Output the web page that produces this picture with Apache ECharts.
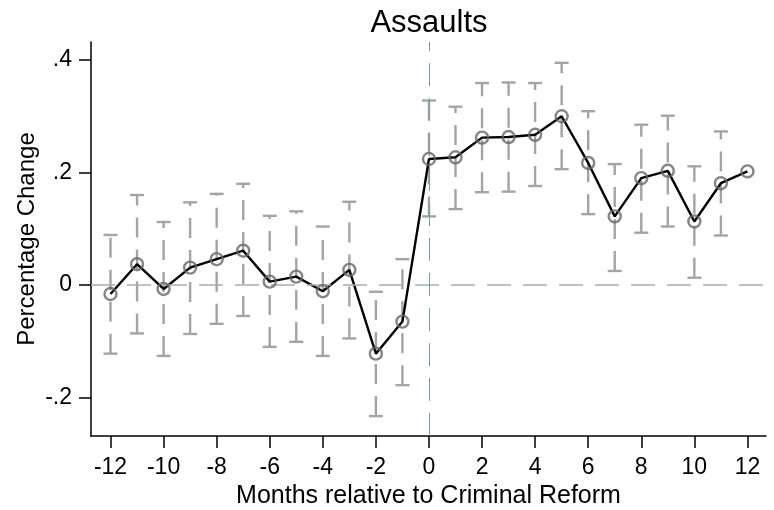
<!DOCTYPE html>
<html>
<head>
<meta charset="utf-8">
<title>Assaults</title>
<script src="https://cdn.jsdelivr.net/npm/echarts@6/dist/echarts.min.js"></script>
<style>
  html, body { margin: 0; padding: 0; background: #fff; }
  #chart { width: 774px; height: 510px; }
</style>
</head>
<body>
<div id="chart"></div>
<script>
// Event-study estimates: months relative to the reform
const months = [-12, -11, -10, -9, -8, -7, -6, -5, -4, -3, -2, -1, 0, 1, 2, 3, 4, 5, 6, 7, 8, 9, 10, 11, 12];
const estimates = [-0.016, 0.037, -0.007, 0.031, 0.046, 0.061, 0.006, 0.015, -0.011, 0.027, -0.122, -0.065,
                   0.224, 0.227, 0.262, 0.263, 0.267, 0.300, 0.217, 0.122, 0.190, 0.203, 0.113, 0.181, 0.202];
const ciLower = [-0.122, -0.086, -0.126, -0.087, -0.069, -0.055, -0.110, -0.101, -0.126, -0.095, -0.233, -0.178,
                 0.122, 0.135, 0.165, 0.166, 0.176, 0.206, 0.126, 0.025, 0.093, 0.104, 0.013, 0.088, null];
const ciUpper = [0.089, 0.160, 0.112, 0.147, 0.162, 0.180, 0.123, 0.131, 0.104, 0.148, -0.012, 0.046,
                 0.328, 0.317, 0.359, 0.360, 0.359, 0.395, 0.309, 0.215, 0.285, 0.301, 0.211, 0.273, null];

// Axis ticks and labels
const xTicks = [-12, -10, -8, -6, -4, -2, 0, 2, 4, 6, 8, 10, 12];
const yTicks = [-0.2, 0, 0.2, 0.4];
const yTickLabels = ['-.2', '0', '.2', '.4'];

const FONT = '"Liberation Sans", Arial, Helvetica, sans-serif';

const pointData = months.map((m, i) => [m, estimates[i]]);
const ciData = [];
months.forEach((m, i) => {
  if (ciLower[i] != null && ciUpper[i] != null) ciData.push([m, ciLower[i], ciUpper[i]]);
});

const CI_COLOR = '#a4a4a4';

function renderCI(params, api) {
  const x = api.value(0);
  const lo = api.coord([x, api.value(1)]);
  const hi = api.coord([x, api.value(2)]);
  const half = 7;
  const solid = { stroke: CI_COLOR, lineWidth: 2.4, fill: null };
  return {
    type: 'group',
    children: [
      { type: 'line', shape: { x1: lo[0], y1: lo[1], x2: hi[0], y2: hi[1] },
        style: { stroke: CI_COLOR, lineWidth: 2.4, lineDash: [20, 12], fill: null } },
      { type: 'line', shape: { x1: lo[0] - half, y1: lo[1], x2: lo[0] + half, y2: lo[1] }, style: solid },
      { type: 'line', shape: { x1: hi[0] - half, y1: hi[1], x2: hi[0] + half, y2: hi[1] }, style: solid }
    ]
  };
}

const chart = echarts.init(document.getElementById('chart'), null, { renderer: 'canvas' });

chart.setOption({
  animation: false,
  backgroundColor: '#ffffff',
  title: {
    text: 'Assaults',
    left: 424,
    top: 3,
    textAlign: 'center',
    textStyle: { fontFamily: FONT, fontSize: 31, fontWeight: 'normal', color: '#000' }
  },
  grid: { left: 91, right: 8, top: 42, bottom: 74, containLabel: false, outerBoundsMode: 'none' },
  xAxis: {
    type: 'value',
    min: -12.735,
    max: 12.70,
    name: 'Months relative to Criminal Reform',
    nameLocation: 'middle',
    nameGap: 48,
    nameTextStyle: { fontFamily: FONT, fontSize: 25, color: '#000' },
    axisLine: { show: true, onZero: false, lineStyle: { color: '#000', width: 1.5 } },
    axisTick: { show: true, length: 12, lineStyle: { color: '#000', width: 1.5 }, customValues: xTicks },
    axisLabel: { fontFamily: FONT, fontSize: 23, color: '#000', margin: 20, customValues: xTicks },
    splitLine: { show: false }
  },
  yAxis: {
    type: 'value',
    min: -0.2684,
    max: 0.432,
    name: 'Percentage Change',
    nameLocation: 'middle',
    nameGap: 52,
    nameMoveOverlap: false,
    nameRotate: 90,
    nameTextStyle: { fontFamily: FONT, fontSize: 24, color: '#000' },
    axisLine: { show: true, onZero: false, lineStyle: { color: '#000', width: 1.5 } },
    axisTick: { show: true, length: 12, lineStyle: { color: '#000', width: 1.5 }, customValues: yTicks },
    axisLabel: {
      fontFamily: FONT, fontSize: 23, color: '#000', margin: 19, customValues: yTicks,
      formatter: v => {
        const k = yTicks.findIndex(t => Math.abs(t - v) < 1e-9);
        return k >= 0 ? yTickLabels[k] : '';
      }
    },
    splitLine: { show: false }
  },
  series: [
    {
      // reference lines at zero
      type: 'line',
      data: [],
      silent: true,
      markLine: {
        silent: true,
        symbol: ['none', 'none'],
        label: { show: false },
        data: [
          { yAxis: 0, lineStyle: { color: '#9fb2aa', width: 1.6, type: [24, 12] } },
          { xAxis: 0, lineStyle: { color: '#76a090', width: 1, type: [23, 12] } }
        ]
      }
    },
    {
      type: 'custom',
      name: '95% CI',
      renderItem: renderCI,
      encode: { x: 0, y: [1, 2] },
      data: ciData,
      silent: true,
      z: 3
    },
    {
      type: 'line',
      name: 'Estimate',
      data: pointData,
      showSymbol: false,
      lineStyle: { color: '#000', width: 2.4 },
      silent: true,
      z: 4
    },
    {
      type: 'scatter',
      data: pointData,
      symbol: 'circle',
      symbolSize: 12,
      itemStyle: { color: 'rgba(0,0,0,0)', borderColor: '#666666', borderWidth: 2.4 },
      silent: true,
      z: 5
    }
  ]
});
</script>
</body>
</html>
